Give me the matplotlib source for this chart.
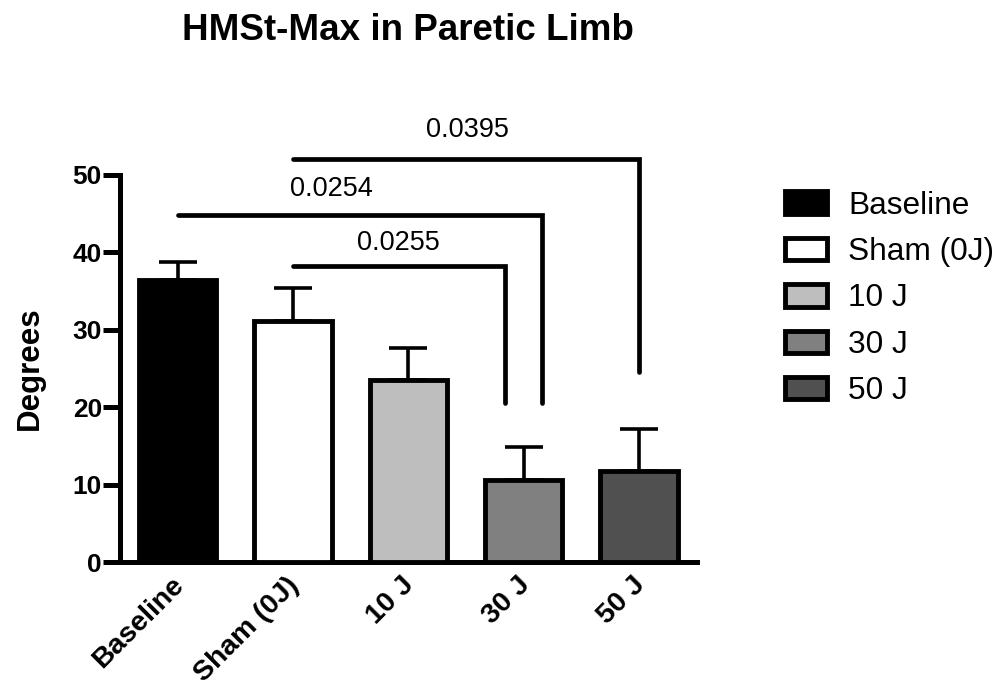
import matplotlib
matplotlib.use("Agg")
import matplotlib.pyplot as plt
import matplotlib.transforms as mtransforms
from matplotlib.patches import Patch

# bar data (degrees)
categories = ["Baseline", "Sham (0J)", "10 J", "30 J", "50 J"]
means = [36.4, 31.2, 23.5, 10.6, 11.8]
err_upper = [2.3, 4.2, 4.1, 4.3, 5.4]
colors = ["#000000", "#ffffff", "#bebebe", "#808080", "#505050"]

# pairwise comparisons: (left bar, right bar, p value)
comparisons = [(1, 3, "0.0255"), (0, 3, "0.0254"), (1, 4, "0.0395")]
# bracket layout: right-end offset, line height, drop end, label x, label y
bracket_layout = [(-0.16, 38.2, 20.5, 1.91, 40.3),
                  (0.16, 44.8, 20.5, 1.33, 47.2),
                  (0.0, 52.1, 24.5, 2.51, 54.9)]

plt.rcParams["font.family"] = ["Liberation Sans", "DejaVu Sans"]

fig = plt.figure(figsize=(10.08, 6.86), dpi=100)
ax = fig.add_axes([0.119, 0.1803, 0.5721, 0.5649])

x = list(range(len(categories)))
ax.bar(x, means, width=0.67, color=colors, edgecolor="black", linewidth=3.5, zorder=3)
ax.errorbar(x, means, yerr=[[0] * len(means), err_upper], fmt="none", ecolor="black",
            elinewidth=2.6, capsize=14, capthick=2.6, zorder=2)

for (i, j, p), (off, ly, drop, tx, ty) in zip(comparisons, bracket_layout):
    ax.plot([i, j + off, j + off], [ly, ly, drop], color="black", lw=3.4,
            solid_capstyle="round", solid_joinstyle="miter", clip_on=False, zorder=4)
    ax.text(tx, ty, p, ha="center", va="baseline", fontsize=19.5)

ax.set_xlim(-0.5, 4.5)
ax.set_ylim(0, 50)
ax.set_yticks([0, 10, 20, 30, 40, 50])
ax.set_xticks(x)
ax.set_xticklabels(categories, rotation=45, ha="right", va="top",
                   rotation_mode="anchor", fontsize=20.5, fontweight="bold")
ax.tick_params(axis="x", length=0, pad=7)
shift = mtransforms.ScaledTranslation(-7 / 100, 0, fig.dpi_scale_trans)
for lbl in ax.get_xticklabels():
    lbl.set_transform(lbl.get_transform() + shift)
ax.tick_params(axis="y", length=12, width=3.6, pad=1, labelsize=19)
for lbl in ax.get_yticklabels():
    lbl.set_fontweight("bold")

for side in ["top", "right"]:
    ax.spines[side].set_visible(False)
for side in ["left", "bottom"]:
    ax.spines[side].set_linewidth(3.6)

ax.set_ylabel("Degrees", fontsize=22.5, fontweight="bold")
ax.yaxis.set_label_coords(-0.13, 0.5)
ax.set_title("HMSt-Max in Paretic Limb", fontsize=26.5, fontweight="bold", y=1.348, pad=0)

handles = [Patch(facecolor=c, edgecolor="black", linewidth=3.5) for c in colors]
fig.legend(handles, categories, loc="upper left", bbox_to_anchor=(785 / 1008, 1 - 190.5 / 686),
           frameon=False, fontsize=22.8, borderpad=0, handlelength=1.32, handleheight=0.71,
           handletextpad=0.68, labelspacing=0.52, borderaxespad=0)

fig.savefig("out.png", dpi=100)
plt.close(fig)
